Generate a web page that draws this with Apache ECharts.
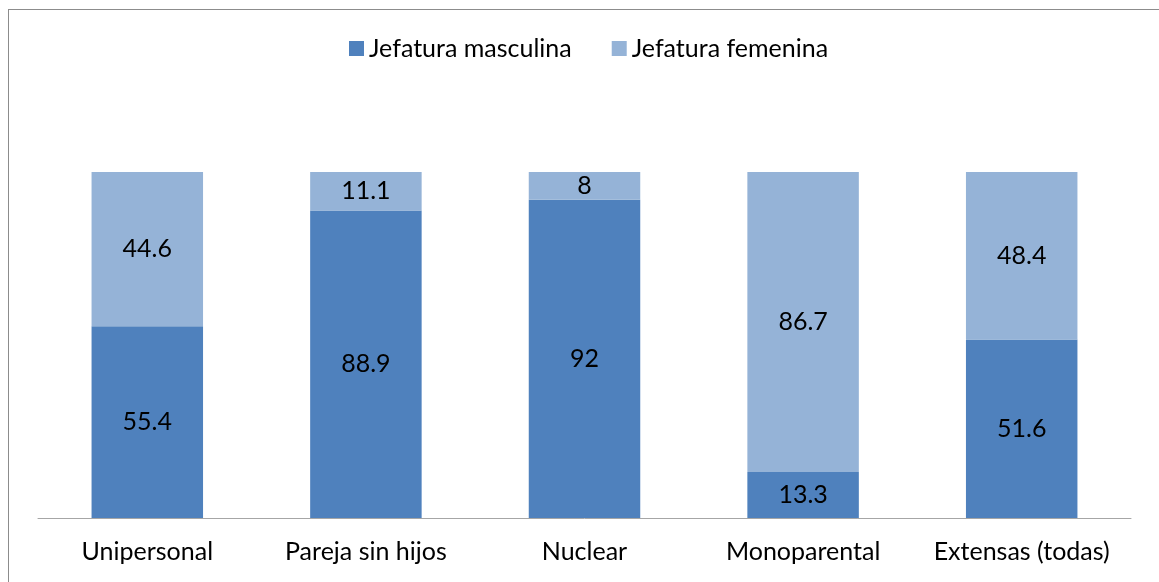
<!DOCTYPE html>
<html><head><meta charset="utf-8">
<script src="https://cdn.jsdelivr.net/npm/echarts@6/dist/echarts.min.js"></script>
<style>
html,body{margin:0;padding:0;background:#fff;overflow:hidden;}
#frame{position:absolute;left:8px;top:9px;width:1160px;height:590px;border:1px solid #8c8c8c;box-sizing:border-box;}
#chart{position:absolute;left:0;top:0;width:1159px;height:582px;}
</style></head>
<body>
<div id="frame"></div>
<div id="chart"></div>
<script>
const categories = ["Unipersonal", "Pareja sin hijos", "Nuclear", "Monoparental", "Extensas (todas)"];
const masculina = [55.4, 88.9, 92, 13.3, 51.6];
const femenina = [44.6, 11.1, 8, 86.7, 48.4];
const seriesNames = ["Jefatura masculina", "Jefatura femenina"];

const FONT = "Lato";
const FS = 25;
const chart = echarts.init(document.getElementById('chart'));
const labelStyle = {show: true, position: 'inside', color: '#000', fontSize: FS, fontFamily: FONT};
chart.setOption({
  animation: false,
  backgroundColor: 'transparent',
  legend: {
    top: 36, left: 349, itemWidth: 15, itemHeight: 15, itemGap: 40,
    icon: 'rect', padding: 0,
    textStyle: {fontSize: FS, fontFamily: FONT, color: '#000'},
    data: seriesNames
  },
  grid: {left: 38, right: 28, top: 172, bottom: 64},
  xAxis: {
    type: 'category', data: categories,
    axisLine: {lineStyle: {color: '#a6a6a6', width: 1}},
    axisTick: {show: false},
    axisLabel: {color: '#000', fontSize: FS, fontFamily: FONT, margin: 21, interval: 0, hideOverlap: false}
  },
  yAxis: {type: 'value', min: 0, max: 100, show: false, splitLine: {show: false}},
  series: [
    {name: seriesNames[0], type: 'bar', stack: 'a', data: masculina, barWidth: '51%',
     itemStyle: {color: '#4F81BD'}, label: labelStyle},
    {name: seriesNames[1], type: 'bar', stack: 'a', data: femenina, barWidth: '51%',
     itemStyle: {color: '#95B3D7'}, label: labelStyle}
  ]
});
</script>
</body></html>
